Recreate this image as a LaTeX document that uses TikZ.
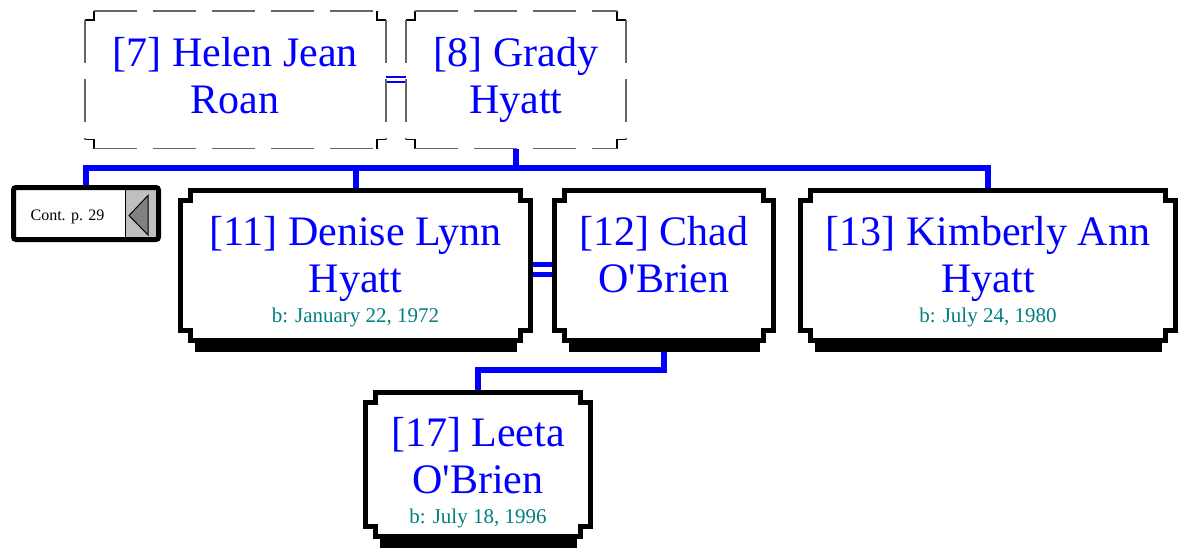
\documentclass[tikz,border=0pt]{standalone}
\usepackage{fontspec}
\setmainfont{Liberation Serif}
\usetikzlibrary{calc}
\definecolor{namecol}{RGB}{0,0,255}
\definecolor{datecol}{RGB}{0,128,128}
\definecolor{contgray}{RGB}{192,192,192}
\definecolor{trigray}{RGB}{128,128,128}
\tikzset{
  fb/.style={draw=none,inner sep=0pt,outer sep=0pt,shape=rectangle},
  frameline/.style={draw=black,line width=5pt,line join=miter},
  dcorner/.style={draw=black,line width=1.5pt},
  dside/.style={draw=black!60,line width=1.5pt,dash pattern=on 43pt off 16pt},
  namest/.style={font=\fontsize{42}{47}\selectfont,text=namecol,align=center,inner sep=0pt,anchor=north},
  datest/.style={font=\fontsize{21}{25}\selectfont,text=datecol,inner sep=0pt,anchor=base},
  conn/.style={draw=namecol,line width=6pt,line join=miter},
  spousethick/.style={draw=namecol,line width=5pt,double=white,double distance=4.5pt},
  spousethin/.style={draw=namecol,line width=1.6pt,double=white,double distance=3.4pt},
  contbox/.style={draw=black,line width=5pt,rounded corners=2.5pt,inner sep=0pt,shape=rectangle},
}
\newcommand{\notchframe}[2]{%
  \draw[frameline] ($(#1.north west)+(#2,0)$) -- ($(#1.north east)+(-#2,0)$) -- ++(0,#2) -- ++(#2,0)
    -- ($(#1.south east)+(0,-#2)$) -- ++(-#2,0) -- ++(0,#2) -- ($(#1.south west)+(#2,0)$)
    -- ++(0,-#2) -- ++(-#2,0) -- ($(#1.north west)+(0,#2)$) -- ++(#2,0) -- cycle;
  \fill ($(#1.south west)+(#2+4,-2.5)$) rectangle ($(#1.south east)+(-#2-4,12)$);
}
\newcommand{\dashframe}[2]{%
  \draw[dcorner] ($(#1.north west)+(0,#2)$) -- ++(#2,0) -- ++(0,-#2);
  \draw[dcorner] ($(#1.north east)+(-#2,0)$) -- ++(0,#2) -- ++(#2,0);
  \draw[dcorner] ($(#1.south east)+(0,-#2)$) -- ++(-#2,0) -- ++(0,#2);
  \draw[dcorner] ($(#1.south west)+(#2,0)$) -- ++(0,-#2) -- ++(-#2,0);
  \draw[dside] ($(#1.north west)+(#2,0)$) -- ($(#1.north east)+(-#2,0)$);
  \draw[dside] ($(#1.north east)+(0,#2)$) -- ($(#1.south east)+(0,-#2)$);
  \draw[dside] ($(#1.south west)+(#2,0)$) -- ($(#1.south east)+(-#2,0)$);
  \draw[dside] ($(#1.north west)+(0,#2)$) -- ($(#1.south west)+(0,-#2)$);
}
\begin{document}
\begin{tikzpicture}[x=1pt,y=-1pt]
\fill[white] (0,0) rectangle (1178,551);
\useasboundingbox (0,0) rectangle (1178,551);

% frame nodes
\node[fb,minimum width=301pt,minimum height=137.7pt] (b7) at (235.3,79.65) {};
\node[fb,minimum width=220.4pt,minimum height=137.7pt] (b8) at (516,79.65) {};
\node[fb,minimum width=350pt,minimum height=149.5pt] (b11) at (355.5,265.25) {};
\node[fb,minimum width=219pt,minimum height=149.5pt] (b12) at (664,265.25) {};
\node[fb,minimum width=375pt,minimum height=149.5pt] (b13) at (988,265.25) {};
\node[fb,minimum width=225pt,minimum height=143.5pt] (b17) at (478,464.25) {};

% continuation box
\fill[contgray] (125,190) rectangle (157,237);
\draw[black,line width=1pt] (125,190) -- (125,237);
\draw[black,line width=1pt,fill=trigray] (129,215.5) -- (148,195.5) -- (148,235) -- cycle;
\node[contbox,minimum width=145pt,minimum height=52pt] (cont) at (86,213.5) {};
\node[font=\fontsize{16}{19}\selectfont,inner sep=0pt,anchor=base] (ctext) at (67.5,220) {Cont. p. 29};

% connectors
\coordinate (bus) at (0,168);
\coordinate (via) at (0,369.5);
\draw[conn] (b8.south) -- (b8.south |- bus);
\draw[conn] (cont.north) |- (b13.north |- bus) -- (b13.north);
\draw[conn] (b11.north |- bus) -- (b11.north);
\draw[conn] (b12.south) |- (b17.north |- via) -- (b17.north);
\draw[spousethick] ($(b11.east)+(0,4)$) -- ($(b12.west)+(0,4)$);
\draw[spousethin] (b7.east) -- (b8.west);

% frames
\dashframe{b7}{9}
\dashframe{b8}{9}
\notchframe{b11}{10}
\notchframe{b12}{10}
\notchframe{b13}{10}
\notchframe{b17}{10}

% texts
\node[namest] (n7) at (235.3,33.1) {\strut[7] Helen Jean\\Roan};
\node[namest] (n8) at (516,33.1) {\strut[8] Grady\\Hyatt};
\node[namest] (n11) at (355.5,212.1) {\strut[11] Denise Lynn\\Hyatt};
\node[namest] (n12) at (664,212.1) {\strut[12] Chad\\O\textquotesingle Brien};
\node[namest] (n13) at (988,212.1) {\strut[13] Kimberly Ann\\Hyatt};
\node[namest] (n17) at (478,413.1) {\strut[17] Leeta\\O\textquotesingle Brien};
\node[datest] (d11) at (355.5,322) {b: January 22, 1972};
\node[datest] (d13) at (988,322) {b: July 24, 1980};
\node[datest] (d17) at (478,523) {b: July 18, 1996};
\end{tikzpicture}
\end{document}
